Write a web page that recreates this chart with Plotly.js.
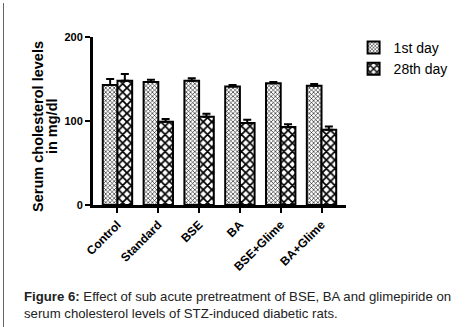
<!DOCTYPE html>
<html>
<head>
<meta charset="utf-8">
<script src="https://cdn.plot.ly/plotly-3.0.1.min.js"></script>
<style>
html,body{margin:0;padding:0;background:#fff;}
#wrap{position:relative;width:465px;height:327px;overflow:hidden;}
#frame{position:absolute;left:3px;top:3px;width:1px;height:324px;background:#666;}
#chart{position:absolute;left:0;top:0;width:465px;height:327px;}
</style>
</head>
<body>
<div id="wrap"><div id="chart"></div><div id="frame"></div></div>
<script>
var categories = ["Control","Standard","BSE","BA","BSE+Glime","BA+Glime"];
var day1 = [143, 146.5, 148, 141, 145, 142];
var day1Err = [7, 2.5, 3, 2, 1.5, 2];
var day28 = [148, 99, 105, 97.5, 93, 89.5];
var day28Err = [8, 3.5, 3.5, 4, 3, 4];
var seriesNames = ["1st day","28th day"];
var yTicks = [0,100,200];
var yTitleLines = ["Serum cholesterol levels","in mg/dl"];

var zeros = categories.map(function(){return 0;});
var traces = [
  {type:"bar", name:seriesNames[0], x:categories, y:day1,
   marker:{color:"#ffffff", line:{color:"#000", width:2},
     pattern:{shape:"x", size:3, solidity:0.35, fgcolor:"#000", bgcolor:"#fff"}},
   error_y:{type:"data", symmetric:false, array:day1Err, arrayminus:zeros, color:"#000", thickness:2, width:4}},
  {type:"bar", name:seriesNames[1], x:categories, y:day28,
   marker:{color:"#ffffff", line:{color:"#000", width:2},
     pattern:{shape:"x", size:6, solidity:0.5, fgcolor:"#000", bgcolor:"#fff"}},
   error_y:{type:"data", symmetric:false, array:day28Err, arrayminus:zeros, color:"#000", thickness:2, width:4}}
];

var layout = {
  width:465, height:327,
  margin:{l:93, r:115, t:37, b:122},
  paper_bgcolor:"#fff", plot_bgcolor:"#fff",
  font:{family:"Liberation Sans, Arial, sans-serif", color:"#000"},
  barmode:"group", bargap:0.28, bargroupgap:0,
  showlegend:true,
  legend:{x:1.03, y:1.03, xanchor:"left", yanchor:"top", font:{size:14, color:"#000"},
    bgcolor:"rgba(0,0,0,0)", itemwidth:30, tracegroupgap:0},
  xaxis:{type:"category", range:[-0.6,5.6], showline:true, linecolor:"#000", linewidth:3,
    ticks:"outside", ticklen:5, tickwidth:2, tickcolor:"#000", tickangle:-45,
    tickfont:{size:12, color:"#000", family:"Liberation Sans, Arial, sans-serif", weight:"bold"},
    showgrid:false, zeroline:false},
  yaxis:{range:[0,200], tickvals:yTicks, ticktext:yTicks.map(String), showline:true, linecolor:"#000", linewidth:3,
    ticks:"outside", ticklen:5, tickwidth:2, tickcolor:"#000",
    tickfont:{size:11, color:"#000", weight:"bold"},
    showgrid:false, zeroline:false},
  annotations:[
    {xref:"paper", yref:"paper", x:-0.218, y:0.47, xanchor:"center", yanchor:"middle", textangle:-90, showarrow:false,
     text:"<b>"+yTitleLines[0]+"</b>", font:{size:14.5, color:"#000"}},
    {xref:"paper", yref:"paper", x:-0.162, y:0.47, xanchor:"center", yanchor:"middle", textangle:-90, showarrow:false,
     text:"<b>"+yTitleLines[1]+"</b>", font:{size:14.5, color:"#000"}},
    {xref:"paper", yref:"paper", x:-0.28, y:-0.49, xanchor:"left", yanchor:"top", align:"left", showarrow:false,
     text:"<b>Figure 6:</b> Effect of sub acute pretreatment of BSE, BA and glimepiride on<br>serum cholesterol levels of STZ-induced diabetic rats.",
     font:{size:13.2, color:"#222"}}
  ]
};
Plotly.newPlot("chart", traces, layout, {displayModeBar:false, staticPlot:true});
</script>
</body>
</html>
